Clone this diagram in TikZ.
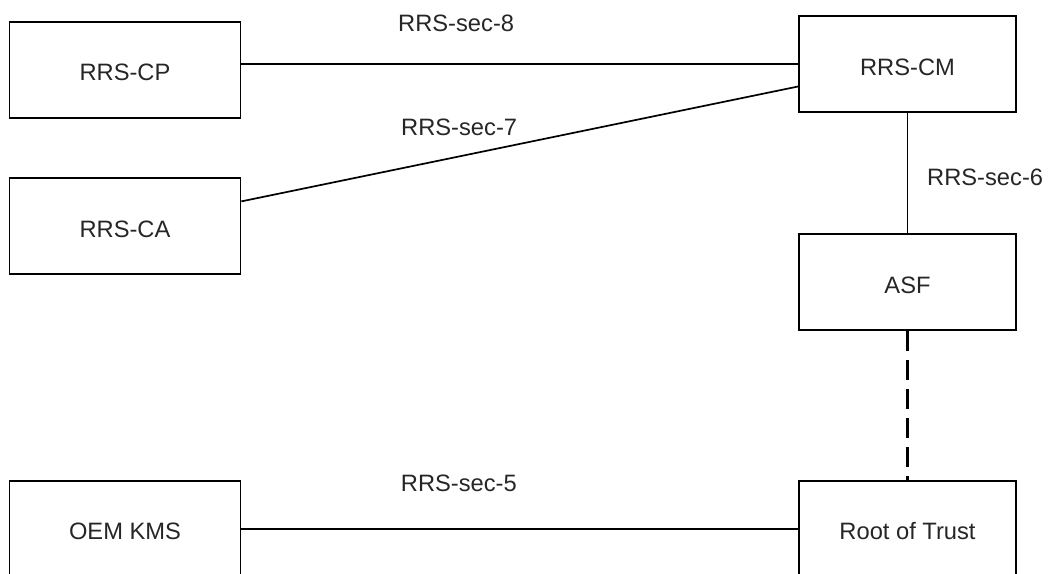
\documentclass[tikz,border=0pt]{standalone}
\usepackage{fontspec}
\setmainfont{Liberation Sans}
\usetikzlibrary{calc}
\begin{document}
\begin{tikzpicture}[x=1pt,y=-1pt,
  box/.style={draw=black,line width=1.7pt,rectangle,inner sep=0pt,
    minimum width=#1,minimum height=96pt,text=black!85,
    font=\fontsize{23.7}{28}\selectfont,text height=22pt,text depth=0pt},
  box/.default=231pt,
  conn/.style={draw=black,line width=1.7pt},
  dashconn/.style={draw=black,line width=3pt,dash pattern=on 20pt off 9pt},
  lbl/.style={anchor=base west,inner sep=0pt,text=black!85,
    font=\fontsize{23.7}{28}\selectfont}]
\useasboundingbox (0,0) rectangle (1048,573);
\clip (0,0) rectangle (1048,573);
\node[box] (CP) at (125,69.9) {RRS-CP};
\node[box] (CA) at (125,226.3) {RRS-CA};
\node[box=217pt] (CM) at (907.5,64) {RRS-CM};
\node[box=217pt] (ASF) at (907.5,282.3) {ASF};
\node[box] (OEM) at (125,528.7) {OEM KMS};
\node[box=217pt] (RoT) at (907.5,528.7) {Root of Trust};
\draw[conn] (CM.west -| CP.east) -- (CM.west);
\draw[conn] ($(CA.north east)!0.245!(CA.south east)$) -- ($(CM.north west)!0.73!(CM.south west)$);
\draw[conn] (CM.south) -- (ASF.north);
\draw[dashconn] (ASF.south) -- (RoT.north);
\draw[conn] (OEM.east) -- (RoT.west);
\node[lbl] (l8) at (398,31.7) {RRS-sec-8};
\node[lbl] (l7) at (401,135) {RRS-sec-7};
\node[lbl] (l6) at (927,185) {RRS-sec-6};
\node[lbl] (l5) at (400.7,491.7) {RRS-sec-5};
\end{tikzpicture}
\end{document}
